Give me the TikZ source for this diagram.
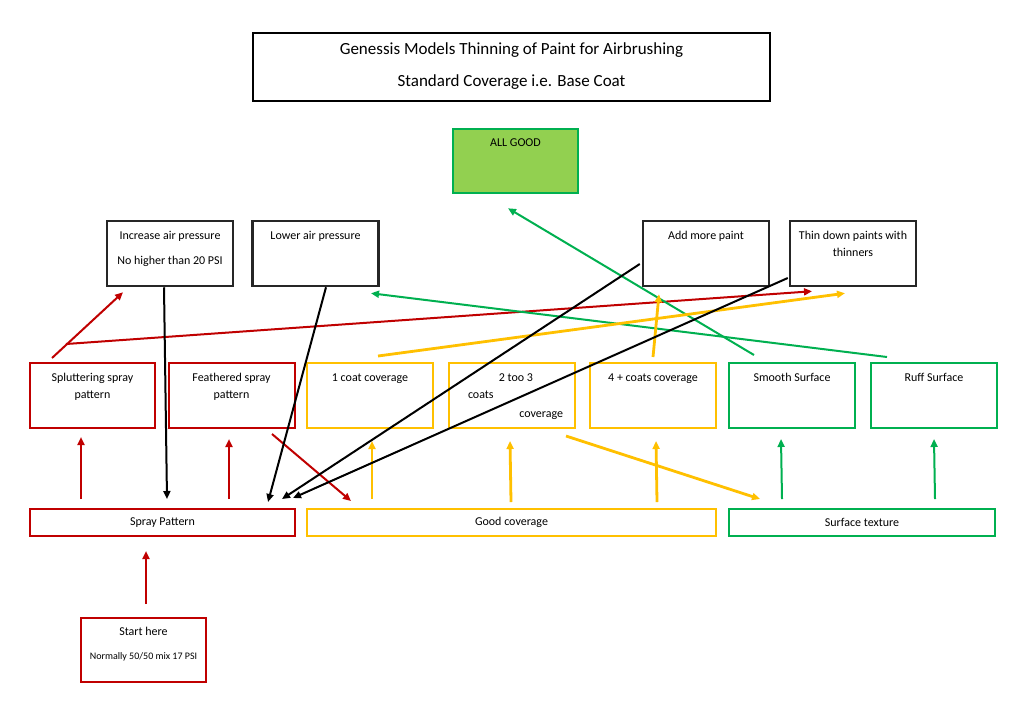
\documentclass[tikz,border=0pt]{standalone}
\usepackage{fontspec}
\setmainfont{Carlito}
\usetikzlibrary{arrows.meta,calc}
\definecolor{paintred}{HTML}{C00000}
\definecolor{paintyellow}{HTML}{FFC000}
\definecolor{paintgreen}{HTML}{00B050}
\definecolor{goodfill}{HTML}{92D050}
\definecolor{darkbox}{HTML}{262626}
\newcommand{\cell}[2][126pt]{\parbox[c][65pt][t]{#1}{\centering\rule{0pt}{18pt}#2}}

\begin{document}
\begin{tikzpicture}[x=1pt,y=-1pt,>={Triangle[length=8pt,width=7pt]},
    every node/.style={inner sep=0pt,font=\fontsize{12}{17}\selectfont},
    blackbox/.style={draw=darkbox,line width=2.5pt},
    redbox/.style={draw=paintred,line width=2pt},
    yellowbox/.style={draw=paintyellow,line width=2pt},
    greenbox/.style={draw=paintgreen,line width=2pt},
    redline/.style={->,draw=paintred,line width=2pt},
    yellowline/.style={->,draw=paintyellow,line width=2.8pt},
    greenline/.style={->,draw=paintgreen,line width=2pt},
    blackline/.style={->,draw=black,line width=2pt}]
    \useasboundingbox[fill=white] (0,0) rectangle (1024,724);

    \node (title) [blackbox,draw=black] at (511.5,67)
        {\parbox[c][68pt][t]{517pt}{\centering\fontsize{17}{32}\selectfont\rule{0pt}{21.5pt}Genessis Models Thinning of Paint for Airbrushing\\Standard Coverage i.e. Base Coat}};
    \node (all_good) [greenbox,line width=2.5pt,fill=goodfill] at (515.5,161)
        {\parbox[c][64pt][t]{125pt}{\centering\rule{0pt}{17pt}ALL GOOD}};

    \node (increase) [blackbox] at (170,253.5) {\cell{Increase air pressure\\[8pt]No higher than 20 PSI}};
    \node (lower) [blackbox] at (315.5,253.5) {\cell{Lower air pressure}};
    \node (add_paint) [blackbox] at (706,253.5) {\cell{Add more paint}};
    \node (thin_down) [blackbox] at (853,253.5) {\cell{Thin down paints with\\thinners}};

    \node (spluttering) [redbox] at (92.5,395.5) {\cell[125pt]{Spluttering spray\\pattern}};
    \node (feathered) [redbox] at (231.5,395.5) {\cell{Feathered spray\\pattern}};
    \node (one_coat) [yellowbox] at (370,395.5) {\cell{1 coat coverage}};
    \node (two_three) [yellowbox] at (512,395.5)
        {\cell{\hspace*{8pt}2 too 3\\\makebox[\linewidth][l]{\hspace{19pt}coats}\\[2pt]\makebox[\linewidth][r]{coverage\hspace{12pt}}}};
    \node (four_plus) [yellowbox] at (653,395.5) {\cell{4 + coats coverage}};
    \node (smooth) [greenbox] at (792,395.5) {\cell{Smooth Surface}};
    \node (ruff) [greenbox] at (934,395.5) {\cell{Ruff Surface}};

    \node (spray) [redbox,minimum width=265pt,minimum height=27pt] at (162.5,522.5) {Spray Pattern};
    \node (good_cov) [yellowbox,minimum width=409pt,minimum height=27pt] at (511.5,522.5) {Good coverage};
    \node (surface) [greenbox,minimum width=266pt,minimum height=27pt] at (862,522.5) {Surface texture};

    \node (start) [redbox] at (143.5,650)
        {\parbox[c][64pt][t]{125pt}{\centering\rule{0pt}{17pt}Start here\\[7pt]{\fontsize{10}{12}\selectfont Normally 50/50 mix 17 PSI}}};

    \draw[redline] ($(start.north)+(2.5,-13)$) -- ($(spray.south)+(-16.5,14)$);
    \draw[redline] ($(spray.north)+(-81.5,-9)$) -- ($(spluttering.south)+(-11.5,8)$);
    \draw[redline] ($(spray.north)+(66.5,-9)$) -- ($(feathered.south)+(-2.5,10)$);
    \draw[redline] ($(feathered.south)+(40.5,5)$) -- ($(good_cov.north)+(-160.5,-7)$);
    \draw[redline] ($(spluttering.north)+(-40.5,-4)$) -- ($(increase.south)+(-47,5)$);
    \draw[redline] ($(spluttering.north)+(-26.5,-18)$) -- ($(thin_down.south)+(-41,4)$);

    \draw[greenline] ($(ruff.north)+(-47,-5)$) -- ($(lower.south)+(55.5,6)$);
    \draw[greenline] ($(smooth.north)+(-38,-7)$) -- ($(all_good.south)+(-7.5,14)$);
    \draw[greenline] ($(surface.north)+(-80,-9)$) -- ($(smooth.south)+(-11,10)$);
    \draw[greenline] ($(surface.north)+(73,-9)$) -- ($(ruff.south)+(0,10)$);

    \draw[yellowline] ($(good_cov.north)+(-139.5,-9)$) -- ($(one_coat.south)+(2,12)$);
    \draw[yellowline] ($(good_cov.north)+(-0.5,-6)$) -- ($(two_three.south)+(-2,12)$);
    \draw[yellowline] ($(good_cov.north)+(145.5,-6)$) -- ($(four_plus.south)+(3,12)$);
    \draw[yellowline] ($(four_plus.north)+(0,-5)$) -- ($(add_paint.south)+(-47,7)$);
    \draw[yellowline] ($(two_three.south)+(54,7)$) -- ($(surface.north)+(-102,-9)$);
    \draw[yellowline] ($(one_coat.north)+(8,-6)$) -- ($(thin_down.south)+(-8,6)$);

    \draw[blackline] ($(increase.south)+(-6,0)$) -- ($(spray.north)+(4.5,-9)$);
    \draw[blackline] ($(lower.south)+(10.5,0)$) -- ($(spray.north)+(105.5,-6)$);
    \draw[blackline] ($(add_paint.west)+(-2,10.5)$) -- ($(spray.north)+(119.5,-9)$);
    \draw[blackline] ($(thin_down.west)+(-1,24.5)$) -- ($(spray.north)+(130.5,-10)$);
\end{tikzpicture}
\end{document}
